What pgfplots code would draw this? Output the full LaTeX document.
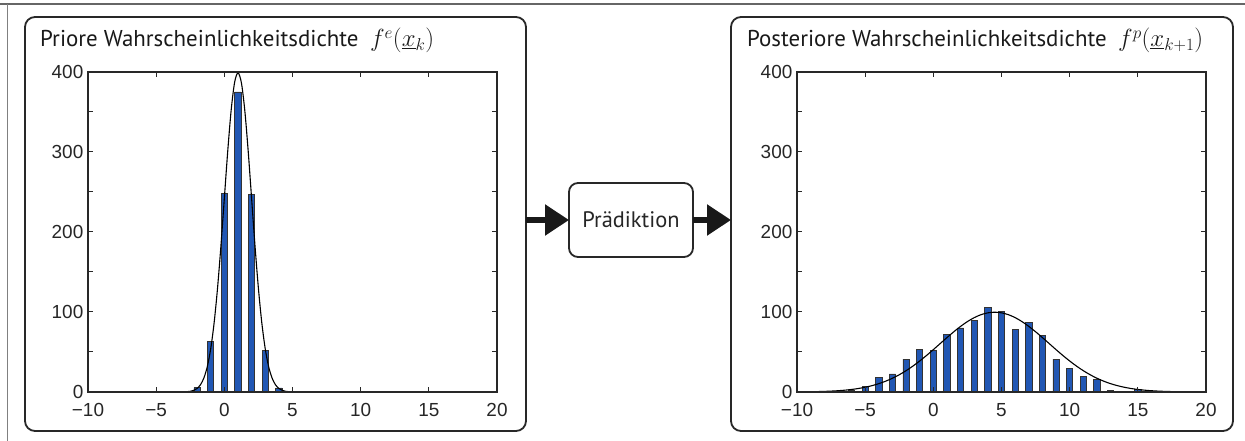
\documentclass[border=0pt]{standalone}
\usepackage{pgfplots}
\pgfplotsset{compat=1.18}
\usepackage{fontspec}
\setmainfont{PT Sans}
\newfontfamily\ticksfont{Liberation Sans}
\usetikzlibrary{arrows.meta}
\definecolor{barblue}{RGB}{33,87,180}
\definecolor{frame}{RGB}{40,40,40}
\pgfplotsset{
  histax/.style={
    scale only axis, width=409bp, height=320bp,
    xmin=-10, xmax=20, ymin=0, ymax=400,
    xtick={-10,-5,...,20},
    xticklabels={−10,−5,0,5,10,15,20},
    ytick={0,100,...,400},
    yticklabels={0,100,200,300,400},
    minor ytick={50,150,250,350},
    tick align=inside, tick pos=both,
    major tick length=5bp, minor tick length=5bp,
    axis line style={frame, line width=1.3bp},
    tick style={frame, line width=1bp},
    tick label style={font=\ticksfont\fontsize{19}{21}\selectfont, text=black!85, inner sep=0.5bp,
      text height=13.6bp, text depth=0bp},
    yticklabel style={xshift=-4bp},
    xticklabel style={yshift=-10bp},
    axis on top,
  },
  histbar/.style={ybar, bar width=0.46, bar shift=0pt, fill=barblue, draw=black!80, line width=0.8bp},
  curve/.style={black, line width=1.1bp, smooth, mark=none},
}
\begin{document}
\begin{tikzpicture}
\path[use as bounding box] (0bp,0bp) rectangle (1245bp,441bp);
% outer frame
\draw[black!60, line width=1.5bp] (0bp,437bp) -- (1245bp,437bp);
\draw[black!50, line width=1bp] (7bp,0bp) -- (7bp,437bp);
% panels
\draw[frame, line width=1.8bp, rounded corners=10bp] (25bp,10bp) rectangle (526bp,424bp);
\draw[frame, line width=1.8bp, rounded corners=10bp] (731bp,10bp) rectangle (1233bp,424bp);
% prediction box
\draw[frame, line width=1.8bp, rounded corners=9bp] (569bp,184bp) rectangle (693bp,258bp);
\node[font=\fontsize{22.5}{26}\selectfont, text=black!85] at (631bp,221bp) {Prädiktion};
\draw[black!90, line width=5.5bp, -{Triangle[length=24bp,width=30bp]}] (526bp,221bp) -- (569bp,221bp);
\draw[black!90, line width=5.5bp, -{Triangle[length=24bp,width=30bp]}] (693bp,221bp) -- (731bp,221bp);
% titles
\node[anchor=base west, inner sep=0pt, font=\fontsize{23}{26}\selectfont, text=black!90] at (40bp,394bp)
  {Priore Wahrscheinlichkeitsdichte\enspace $f^{e}(\underline{x}_{k})$};
\node[anchor=base west, inner sep=0pt, font=\fontsize{23}{26}\selectfont, text=black!90] at (747bp,394bp)
  {Posteriore Wahrscheinlichkeitsdichte\enspace $f^{p}(\underline{x}_{k+1})$};

\begin{axis}[histax, at={(88bp,49bp)}, anchor=south west]
\addplot[histbar] coordinates {(-2,5.5) (-1,63) (0,248) (1,375) (2,247) (3,51.5) (4,5) (5,1)};
\addplot[curve] coordinates {
(-3.5,0.016) (-3,0.13) (-2.75,0.35) (-2.5,0.87) (-2.25,2.03) (-2,4.43) (-1.75,9.1) (-1.5,17.5)
(-1.25,31.7) (-1,54.0) (-0.75,86.3) (-0.5,129.5) (-0.25,182.6) (0,242.0) (0.25,301.1) (0.5,352.1)
(0.75,386.7) (1,398.9) (1.25,386.7) (1.5,352.1) (1.75,301.1) (2,242.0) (2.25,182.6) (2.5,129.5)
(2.75,86.3) (3,54.0) (3.25,31.7) (3.5,17.5) (3.75,9.1) (4,4.43) (4.25,2.03) (4.5,0.87)
(4.75,0.35) (5,0.13) (5.5,0.016)};
\end{axis}

\begin{axis}[histax, at={(797bp,49bp)}, anchor=south west]
\addplot[histbar] coordinates {
(-8,0.3) (-7,0.5) (-6,2) (-5,7) (-4,18.5) (-3,22.5) (-2,41) (-1,53.5) (0,52) (1,71.5) (2,80)
(3,89.5) (4,106) (5,101) (6,78) (7,87) (8,71) (9,41) (10,29) (11,19.5) (12,16) (13,1.5)
(14,0.5) (15,3) (16,0.5) (17,0.3) (19,0.3)};
\addplot[curve] coordinates {
(-9.5,0.22) (-9,0.34) (-8.5,0.51) (-8,0.76) (-7.5,1.11) (-7,1.60) (-6.5,2.27) (-6,3.18)
(-5.5,4.38) (-5,5.94) (-4.5,7.94) (-4,10.43) (-3.5,13.50) (-3,17.20) (-2.5,21.57) (-2,26.64)
(-1.5,32.38) (-1,38.76) (-0.5,45.66) (0,52.97) (0.5,60.50) (1,68.02) (1.5,75.29) (2,82.04)
(2.5,88.02) (3,92.97) (3.5,96.67) (4,98.96) (4.5,99.74) (5,98.96) (5.5,96.67) (6,92.97)
(6.5,88.02) (7,82.04) (7.5,75.29) (8,68.02) (8.5,60.50) (9,52.97) (9.5,45.66) (10,38.76)
(10.5,32.38) (11,26.64) (11.5,21.57) (12,17.20) (12.5,13.50) (13,10.43) (13.5,7.94) (14,5.94)
(14.5,4.38) (15,3.18) (15.5,2.27) (16,1.60) (16.5,1.11) (17,0.76) (17.5,0.51) (18,0.34)
(18.5,0.22) (19,0.14)};
\end{axis}
\end{tikzpicture}
\end{document}
